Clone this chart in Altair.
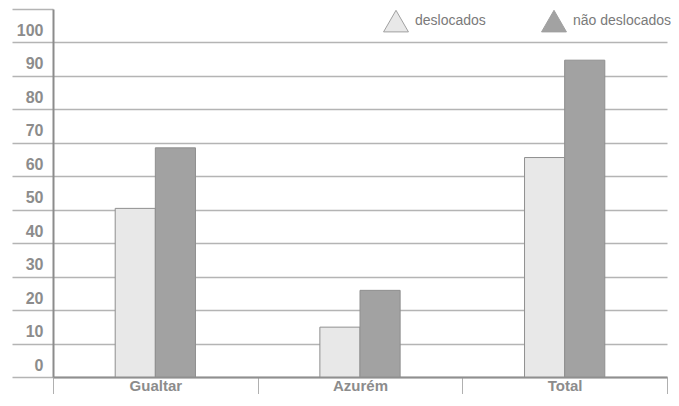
import altair as alt
import pandas as pd

categories = ["Gualtar", "Azurém", "Total"]
series = ["deslocados", "não deslocados"]
deslocados = [50.4, 14.9, 65.6]
nao_deslocados = [68.5, 25.9, 94.7]
y_ticks = list(range(0, 111, 10))

rows = []
for c, d, n in zip(categories, deslocados, nao_deslocados):
    rows.append({"local": c, "grupo": series[0], "valor": d})
    rows.append({"local": c, "grupo": series[1], "valor": n})
df = pd.DataFrame(rows)

# empty slots either side of the pair keep the bars narrow and centred
offset_domain = ["_l"] + series + ["_r"]

FONT = "Liberation Sans"
GRAY_TXT = "#8c8c8c"
GRID = "#b4b4b4"

bars = alt.Chart(df).mark_bar(stroke="#8f8f8f", strokeWidth=1).encode(
    x=alt.X(
        "local:N",
        sort=categories,
        scale=alt.Scale(paddingInner=0, paddingOuter=0),
        axis=alt.Axis(
            title=None, labelAngle=0, tickBand="extent", ticks=True, tickSize=17,
            tickColor="#b0b0b0", tickWidth=1, domain=True, domainColor="#8f8f8f",
            domainWidth=2, labelFont=FONT, labelFontWeight="bold", labelFontSize=15,
            labelColor=GRAY_TXT, labelBaseline="alphabetic", labelPadding=-4, grid=False,
        ),
    ),
    xOffset=alt.XOffset("grupo:N",
                        scale=alt.Scale(domain=offset_domain, paddingInner=0, paddingOuter=0.55)),
    y=alt.Y(
        "valor:Q",
        scale=alt.Scale(domain=[0, 110], nice=False, zero=True),
        axis=alt.Axis(
            title=None, values=y_ticks, domain=True, domainColor="#8c8c8c", domainWidth=2,
            ticks=True, tickSize=41, tickColor=GRID, tickWidth=1.5,
            grid=True, gridColor=GRID, gridWidth=1.5,
            gridOpacity={"condition": {"test": "datum.value > 100", "value": 0}, "value": 1},
            labelExpr="datum.value > 100 ? '' : datum.label",
            labelPadding=-31, labelBaseline="alphabetic", labelOffset=-7,
            labelFont=FONT, labelFontWeight="bold", labelFontSize=16, labelColor=GRAY_TXT,
        ),
    ),
    color=alt.Color(
        "grupo:N",
        sort=series,
        scale=alt.Scale(domain=series, range=["#e8e8e8", "#a2a2a2"]),
        legend=alt.Legend(
            title=None, orient="none", direction="horizontal", legendX=330, legendY=-1,
            symbolType="triangle-up", symbolSize=620, symbolStrokeColor="#a0a0a0",
            symbolStrokeWidth=1, labelFont=FONT, labelFontSize=14, labelColor="#7a7a7a",
            labelOffset=6, columnPadding=53,
        ),
    ),
)

chart = bars.properties(
    width=614, height=368,
    autosize=alt.AutoSizeParams(type="none"),
    padding={"left": 45, "top": 1, "right": 4, "bottom": 17},
).configure_view(stroke=None)

chart.save("out.html", embed_options={"renderer": "svg", "actions": False})
